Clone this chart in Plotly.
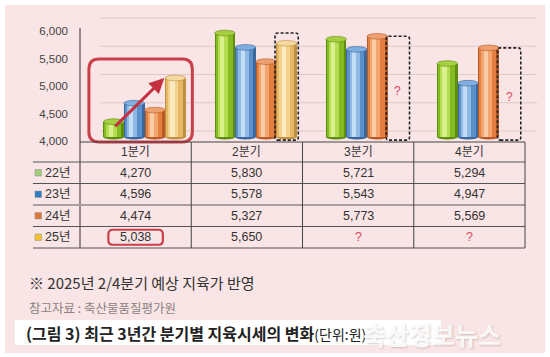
import plotly.graph_objects as go

# ---------------- data ----------------
quarters = ["1분기", "2분기", "3분기", "4분기"]
years = ["22년", "23년", "24년", "25년"]
v22 = [4270, 5830, 5721, 5294]
v23 = [4596, 5578, 5543, 4947]
v24 = [4474, 5327, 5773, 5569]
v25 = [5038, 5650, None, None]
forecast = [False, True, True, True]
yticks = [4000, 4500, 5000, 5500, 6000]
ytick_text = ["4,000", "4,500", "5,000", "5,500", "6,000"]
note = "※ 2025년 2/4분기 예상 지육가 반영"
source = "참고자료 : 축산물품질평가원"
caption = "(그림 3) 최근 3년간 분기별 지육시세의 변화"
unit = "(단위:원)"
watermark = "축산정보뉴스"

series = [v22, v23, v24, v25]

# ---------------- styles ----------------
FONT = "Liberation Sans, Noto Sans CJK KR, sans-serif"
KFONT = "Noto Sans CJK KR, sans-serif"
pal = [
    dict(edge="#5d8c10", body="#84bb22", light="#b6dc52", hi="#d9f08e", top="#a6d040", leg="#a3cf7a"),
    dict(edge="#3a679e", body="#5b90c9", light="#8fbae6", hi="#c4dcf4", top="#80aee0", leg="#2f7dc3"),
    dict(edge="#b85a26", body="#e4803f", light="#f2a56e", hi="#f9cca6", top="#eea070", leg="#e0773a"),
    dict(edge="#c0903e", body="#e6b865", light="#f3d28e", hi="#fbeac2", top="#f4d9a0", leg="#f0c22e"),
]
W, H = 550, 357
PL, PR, PT, PB = 80, 537, 15, 143   # plot area in px
BASE = 4000
SHIFT = 0.08
BW = 0.185


def pxx(p):
    return (p - PL) / (PR - PL)


def pyy(p):
    return (PB - p) / (PB - PT)


def bar_x(q, s):
    return q + SHIFT + (s - 1.5) * BW


fig = go.Figure()
shapes = []
annotations = []


def ann(**kw):
    kw.setdefault("showarrow", False)
    kw.setdefault("xanchor", "center")
    kw.setdefault("yanchor", "middle")
    annotations.append(kw)


# panel background
shapes.append(dict(type="rect", xref="paper", yref="paper", x0=pxx(5), x1=pxx(545),
                   y0=pyy(353), y1=pyy(5), fillcolor="#f9e5e5", line_width=0, layer="below"))
# caption white box
shapes.append(dict(type="rect", xref="paper", yref="paper", x0=pxx(15), x1=pxx(441),
                   y0=pyy(345), y1=pyy(320), fillcolor="#ffffff", line_width=0, layer="below"))

# back-wall gridlines (scale shifted for perspective)
for t in yticks:
    shapes.append(dict(type="line", xref="paper", yref="y3", x0=pxx(100), x1=1, y0=t, y1=t,
                       line=dict(color="#dfc8c8", width=1), layer="below"))

# cylinder bars
strips = [(0.0, 1.0, "edge"), (-0.04, 0.82, "body"), (-0.10, 0.5, "light"), (-0.14, 0.2, "hi")]
for s, vals in enumerate(series):
    qs = [q for q in range(4) if vals[q] is not None]
    for off, wf, key in strips:
        fig.add_trace(go.Bar(
            x=[bar_x(q, s) + off * BW for q in qs],
            y=[vals[q] - BASE for q in qs],
            base=BASE, width=wf * BW,
            marker=dict(color=pal[s][key], line_width=0),
            showlegend=False, hoverinfo="skip"))
    for q in qs:
        xc = bar_x(q, s)
        shapes.append(dict(type="circle", xref="x", yref="y", x0=xc - BW / 2, x1=xc + BW / 2,
                           y0=vals[q] - 50, y1=vals[q] + 50, fillcolor=pal[s]["top"],
                           line=dict(color=pal[s]["edge"], width=0.6)))
        shapes.append(dict(type="circle", xref="x", yref="y", x0=xc - BW / 2, x1=xc + BW / 2,
                           y0=BASE - 45, y1=BASE + 45, fillcolor=pal[s]["edge"],
                           line_width=0, layer="between"))


def rrect(x0, x1, y0, y1, rx, ry):
    return (f"M {x0+rx},{y0} L {x1-rx},{y0} Q {x1},{y0} {x1},{y0+ry} L {x1},{y1-ry} "
            f"Q {x1},{y1} {x1-rx},{y1} L {x0+rx},{y1} Q {x0},{y1} {x0},{y1-ry} "
            f"L {x0},{y0+ry} Q {x0},{y0} {x0+rx},{y0} Z")


# dashed forecast boxes
for q in range(4):
    if not forecast[q]:
        continue
    xc = bar_x(q, 3)
    top = max(v for v in (v22[q], v23[q], v24[q], v25[q]) if v is not None)
    shapes.append(dict(type="path", xref="x", yref="y",
                       path=rrect(xc - BW / 2 - 0.012, xc + BW / 2 + 0.012, BASE - 55, top, 0.025, 45),
                       line=dict(color="#222", width=1.6, dash="3px,2px")))
    if v25[q] is None:
        ann(x=xc, y=(BASE + top) / 2 - 80, xref="x", yref="y", text="?",
            font=dict(family=FONT, size=12, color="#d9475e"))

# red rounded highlight around 1분기
g0 = SHIFT
shapes.append(dict(type="path", xref="x", yref="paper",
                   path=rrect(g0 - 0.5, g0 + 0.43, pyy(142), pyy(59), 0.09, 0.08),
                   line=dict(color="#c9404b", width=3)))
annotations.append(dict(x=bar_x(0, 3) - 0.1, y=v25[0], xref="x", yref="y",
                        ax=bar_x(0, 0), ay=v22[0] - 110, axref="x", ayref="y",
                        text="", showarrow=True, arrowhead=2, arrowsize=1, arrowwidth=3,
                        arrowcolor="#c3303f"))

# ---------------- table ----------------
T_TOP = 142
HDR = 20
ROW = 21.5
row_lines = [T_TOP + HDR + i * ROW for i in range(5)]
# left axis line
shapes.append(dict(type="line", xref="paper", yref="paper", x0=0, x1=0, y0=pyy(row_lines[-1]), y1=pyy(28),
                   line=dict(color="#333", width=1)))
shapes.append(dict(type="line", xref="paper", yref="paper", x0=0, x1=pxx(525), y0=pyy(T_TOP), y1=pyy(T_TOP),
                   line=dict(color="#444", width=1)))
for i, yl in enumerate(row_lines):
    thick = (i == 2)
    shapes.append(dict(type="line", xref="paper", yref="paper", x0=pxx(33), x1=pxx(525),
                       y0=pyy(yl), y1=pyy(yl),
                       line=dict(color="#a8a0a0" if thick else "#555", width=2 if thick else 1)))
for b in [0.5, 1.5, 2.5, 3.5]:
    shapes.append(dict(type="line", xref="x", yref="paper", x0=b, x1=b,
                       y0=pyy(row_lines[-1]), y1=pyy(T_TOP), line=dict(color="#444", width=1)))

for q, name in enumerate(quarters):
    ann(x=q, y=pyy(T_TOP + HDR / 2), xref="x", yref="paper", text=name,
        font=dict(family=FONT, size=12, color="#333"))
for s, vals in enumerate(series):
    yc = pyy(row_lines[s] + ROW / 2)
    shapes.append(dict(type="rect", xref="paper", yref="paper", x0=pxx(35), x1=pxx(41.5),
                       y0=yc - 3.2 / 128, y1=yc + 3.2 / 128, fillcolor=pal[s]["leg"],
                       line=dict(color="#888", width=0.5)))
    ann(x=pxx(43), y=yc, xref="paper", yref="paper", text=years[s], xanchor="left",
        font=dict(family=FONT, size=12.5, color="#333"))
    for q in range(4):
        v = vals[q]
        txt = f"{v:,}" if v is not None else "?"
        ann(x=q, y=yc, xref="x", yref="paper", text=txt,
            font=dict(family=FONT, size=12.5, color="#333" if v is not None else "#d9475e"))
# red box around 25년 1분기 value
yc25 = pyy(row_lines[3] + ROW / 2)
shapes.append(dict(type="path", xref="x", yref="paper",
                   path=rrect(-0.245, 0.245, yc25 - 7.5 / 128, yc25 + 7.5 / 128, 0.04, 0.035),
                   line=dict(color="#c9404b", width=2.2)))

# ---------------- notes ----------------
ann(x=pxx(27), y=pyy(282), xref="paper", yref="paper", text=note, xanchor="left",
    font=dict(family=KFONT, size=15, color="#333"))
ann(x=pxx(27), y=pyy(307), xref="paper", yref="paper", text=source, xanchor="left",
    font=dict(family=KFONT, size=12.5, color="#8a8282"))
ann(x=pxx(24), y=pyy(333), xref="paper", yref="paper",
    text=f"<b>{caption}</b><span style='font-size:14px'>{unit}</span>",
    xanchor="left", font=dict(family=KFONT, size=16, color="#222"))
ann(x=pxx(432), y=pyy(334), xref="paper", yref="paper", text=f"<b>{watermark}</b>",
    font=dict(family=KFONT, size=25, color="rgba(255,255,255,0.85)",
              shadow="1px 1px 2px rgba(120,100,100,0.35)"))

# invisible anchors for the helper axes
fig.add_trace(go.Scatter(x=[None], y=[None], yaxis="y2", showlegend=False, hoverinfo="skip"))
fig.add_trace(go.Scatter(x=[None], y=[None], yaxis="y3", showlegend=False, hoverinfo="skip"))

fig.update_layout(
    width=W, height=H, autosize=False,
    margin=dict(l=PL, r=W - PR, t=PT, b=H - PB, pad=0),
    paper_bgcolor="#ffffff", plot_bgcolor="rgba(0,0,0,0)",
    barmode="overlay", bargap=0,
    showlegend=False,
    xaxis=dict(range=[-0.5, 3.5 + 12 / 111.25], visible=False, fixedrange=True),
    yaxis=dict(range=[3894.4, 6147.9], visible=False, fixedrange=True),
    yaxis2=dict(range=[3963.6, 6290.9], overlaying="y", anchor="x", side="left",
                tickvals=yticks, ticktext=ytick_text, showgrid=False, zeroline=False,
                showline=False, ticks="", ticklabelstandoff=11, fixedrange=True,
                tickfont=dict(family=FONT, size=11.5, color="#444")),
    yaxis3=dict(range=[3787.6, 6053], overlaying="y", anchor="x", visible=False, fixedrange=True),
    shapes=shapes, annotations=annotations,
)

fig.write_html("out.html", config={"displayModeBar": False, "staticPlot": True},
               post_script="document.body.style.margin='0';document.body.style.overflow='hidden';")
